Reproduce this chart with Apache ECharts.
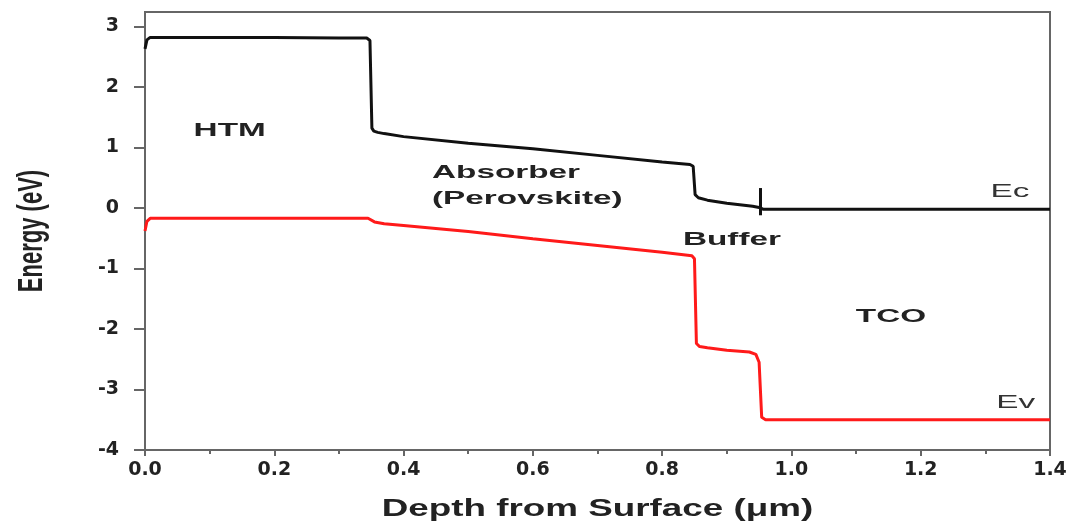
<!DOCTYPE html>
<html>
<head>
<meta charset="utf-8">
<script src="https://cdn.jsdelivr.net/npm/echarts@6/dist/echarts.min.js"></script>
<style>html,body{margin:0;padding:0;background:#fff}#c{width:1076px;height:527px}</style>
</head>
<body>
<div id="c"></div>
<script>
// ---- data (depth in µm, energy in eV) ----
const ecDepth = [0, 0.003, 0.008, 0.1, 0.2, 0.3, 0.343, 0.348, 0.351, 0.354, 0.36, 0.37, 0.4, 0.5, 0.6, 0.7, 0.8, 0.843, 0.848, 0.851, 0.856, 0.87, 0.9, 0.94, 0.95, 0.956, 1.0, 1.4];
const ecEnergy = [2.63, 2.78, 2.82, 2.82, 2.82, 2.81, 2.81, 2.77, 1.32, 1.27, 1.25, 1.23, 1.18, 1.07, 0.98, 0.87, 0.76, 0.72, 0.69, 0.22, 0.17, 0.13, 0.08, 0.03, 0.01, -0.02, -0.02, -0.02];
const evDepth = [0, 0.003, 0.008, 0.3, 0.345, 0.355, 0.37, 0.4, 0.5, 0.6, 0.7, 0.8, 0.846, 0.850, 0.853, 0.858, 0.87, 0.9, 0.935, 0.945, 0.950, 0.954, 0.96, 1.0, 1.4];
const evEnergy = [-0.38, -0.22, -0.17, -0.17, -0.17, -0.23, -0.26, -0.29, -0.39, -0.51, -0.62, -0.73, -0.79, -0.84, -2.24, -2.29, -2.31, -2.35, -2.38, -2.42, -2.55, -3.46, -3.5, -3.5, -3.5];
const markerDepth = [0.951, 0.951];
const markerEnergy = [0.33, -0.12];
const xTicks = [0, 0.2, 0.4, 0.6, 0.8, 1.0, 1.2, 1.4];
const yTicks = [-4, -3, -2, -1, 0, 1, 2, 3];
const regionLabels = ['HTM', 'Absorber', '(Perovskite)', 'Buffer', 'TCO'];
const bandLabels = ['Ec', 'Ev'];
const xTitle = 'Depth from Surface (\u03bcm)';
const yTitle = 'Energy (eV)';

// annotation anchors (data coordinates)
const regionAnchors = [[0.131, 1.27, 'center'], [0.444, 0.57, 'left'], [0.444, 0.15, 'left'], [0.908, -0.53, 'center'], [1.154, -1.80, 'center']];
const bandAnchors = [[1.338, 0.26], [1.347, -3.22]];

const zip = (a, b) => a.map((v, i) => [v, b[i]]);

const chart = echarts.init(document.getElementById('c'));
const G = {left: 145, right: 26, top: 12, bottom: 77};
const axisCol = '#666';
chart.setOption({
  animation: false,
  grid: {left: G.left, right: G.right, top: G.top, bottom: G.bottom, show: true, borderColor: axisCol, borderWidth: 2, backgroundColor: 'transparent'},
  xAxis: {
    type: 'value', min: 0, max: 1.4, interval: 0.2,
    axisLine: {show: true, onZero: false, lineStyle: {color: axisCol, width: 2}},
    axisTick: {show: true, length: 6, lineStyle: {color: axisCol, width: 2}},
    minorTick: {show: true, splitNumber: 2, length: 4, lineStyle: {color: axisCol, width: 2}},
    splitLine: {show: false},
    axisLabel: {margin: 11, color: '#222', fontFamily: 'DejaVu Sans', fontWeight: 'bold', fontSize: 19,
      formatter: v => xTicks.some(t => Math.abs(t - v) < 1e-9) ? v.toFixed(1) : ''}
  },
  yAxis: {
    type: 'value', min: -4, max: 3.24, interval: 1,
    axisLine: {show: true, onZero: false, lineStyle: {color: axisCol, width: 2}},
    axisTick: {show: true, length: 11, customValues: yTicks, lineStyle: {color: axisCol, width: 2}},
    splitLine: {show: false},
    axisLabel: {margin: 26, color: '#222', fontFamily: 'DejaVu Sans', fontWeight: 'bold', fontSize: 19, customValues: yTicks,
      formatter: v => String(v)}
  },
  series: [
    {name: 'Ec', type: 'line', data: zip(ecDepth, ecEnergy), showSymbol: false, smooth: false,
      lineStyle: {color: '#111', width: 3}, itemStyle: {color: '#111'},
      markLine: {silent: true, symbol: ['none', 'none'], label: {show: false},
        lineStyle: {color: '#111', width: 3, type: 'solid'},
        data: [[{coord: [markerDepth[0], markerEnergy[0]]}, {coord: [markerDepth[1], markerEnergy[1]]}]]}},
    {name: 'Ev', type: 'line', data: zip(evDepth, evEnergy), showSymbol: false, smooth: false,
      lineStyle: {color: '#ff1a1a', width: 3}, itemStyle: {color: '#ff1a1a'}}
  ]
});

// text annotations placed through the axes
const els = [];
const FF = '"Liberation Sans", Arial, sans-serif';
regionLabels.forEach((t, i) => {
  const a = regionAnchors[i];
  const p = chart.convertToPixel({gridIndex: 0}, [a[0], a[1]]);
  els.push({type: 'text', x: p[0], y: p[1], scaleX: 1.85, silent: true,
    style: {text: t, font: 'bold 18px ' + FF, fill: '#222', align: a[2], verticalAlign: 'middle', textAlign: a[2], textVerticalAlign: 'middle'}});
});
bandLabels.forEach((t, i) => {
  const a = bandAnchors[i];
  const p = chart.convertToPixel({gridIndex: 0}, [a[0], a[1]]);
  els.push({type: 'text', x: p[0], y: p[1], scaleX: 1.85, silent: true,
    style: {text: t, font: '18px ' + FF, fill: '#333', align: 'center', verticalAlign: 'middle', textAlign: 'center', textVerticalAlign: 'middle'}});
});
const xMid = chart.convertToPixel({gridIndex: 0}, [0.7, -4]);
els.push({type: 'text', x: xMid[0], y: 510, scaleX: 1.6, silent: true,
  style: {text: xTitle, font: 'bold 23px ' + FF, fill: '#222', align: 'center', verticalAlign: 'middle', textAlign: 'center', textVerticalAlign: 'middle'}});
const yMid = chart.convertToPixel({gridIndex: 0}, [0, -0.38]);
els.push({type: 'text', x: 32, y: yMid[1], rotation: Math.PI / 2, scaleY: 1.6, silent: true,
  style: {text: yTitle, font: 'bold 22px ' + FF, fill: '#222', align: 'center', verticalAlign: 'middle', textAlign: 'center', textVerticalAlign: 'middle'}});
chart.setOption({graphic: {elements: els}});
</script>
</body>
</html>
